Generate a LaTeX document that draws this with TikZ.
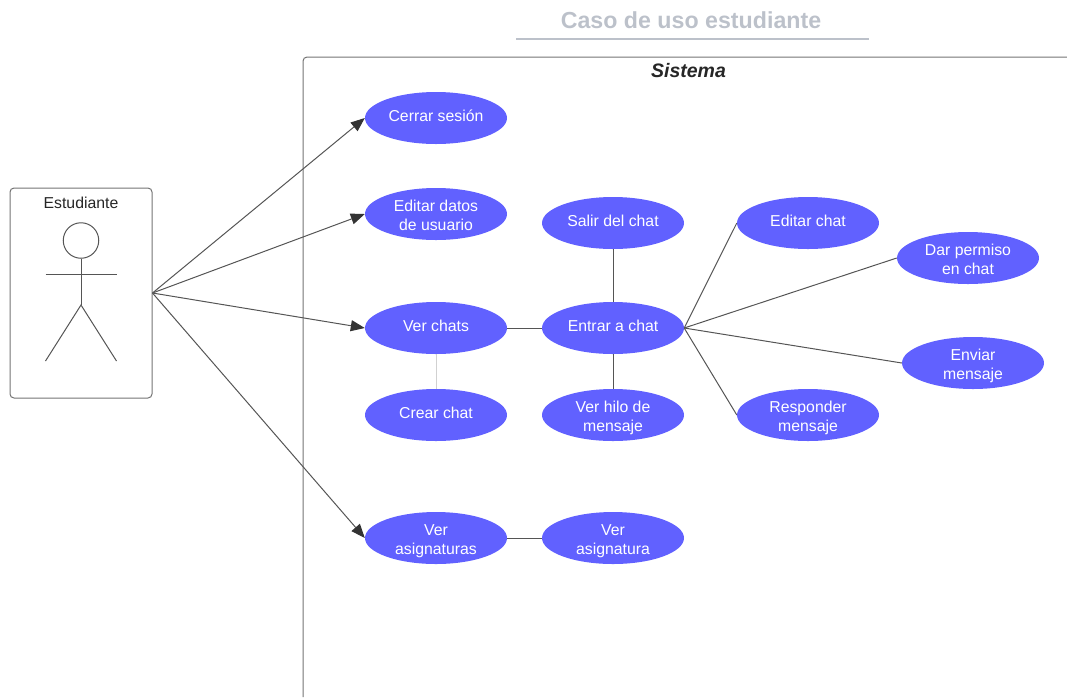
\documentclass[tikz,border=0pt]{standalone}
\usepackage{fontspec}
\setmainfont{Liberation Sans}
\usetikzlibrary{shapes.geometric,arrows.meta}
\definecolor{uc}{HTML}{6161FF}
\definecolor{ln}{HTML}{555555}
\definecolor{ttl}{HTML}{BCC1CA}
\tikzset{
  usecase/.style={ellipse,fill=uc,text=white,minimum width=142pt,minimum height=52pt,inner sep=0pt,align=center,font=\fontsize{15.8}{19}\selectfont},
  assoc/.style={draw=ln,line width=1pt},
  arrowed/.style={assoc,-{Triangle[length=14pt,width=11pt,color=black!80]}},
  faint/.style={draw=black!18,line width=0.8pt},
  figure/.style={draw=ln,line width=1pt},
  frame/.style={draw=black!55,line width=1pt,rounded corners=4pt}
}
\newcommand{\up}[1]{\raisebox{-3pt}[0pt][0pt]{\begin{tabular}{@{}c@{}}#1\end{tabular}}}
\newcommand{\dn}[1]{\raisebox{-6.5pt}[0pt][0pt]{\begin{tabular}{@{}c@{}}#1\end{tabular}}}
\begin{document}
\begin{tikzpicture}[x=1pt,y=-1pt]
\useasboundingbox (0,0) rectangle (1067,697);
% title
\node[font=\fontsize{23.2}{27}\selectfont\bfseries,text=ttl] (title) at (691,20.5) {Caso de uso estudiante};
\coordinate (ruleL) at (516,39); \coordinate (ruleR) at (869,39);
\draw[ttl,line width=2.5pt] (ruleL) -- (ruleR);
% system boundary
\coordinate (sysB) at (303,697); \coordinate (sysC) at (303,57); \coordinate (sysR) at (1067,57);
\draw[frame] (sysB) -- (sysC) -- (sysR);
\node[font=\fontsize{19.5}{23}\selectfont\bfseries\itshape,text=black!85] (sistema) at (688.5,71) {Sistema};
% actor
\node[frame,minimum width=142pt,minimum height=210pt,inner sep=0pt] (actor) at (81,293) {};
\node[font=\fontsize{15.8}{18}\selectfont,text=black!85] (actorlabel) at (81,203) {Estudiante};
\node[figure,circle,minimum size=35.5pt,inner sep=0pt] (head) at (81,240.5) {};
\coordinate (hip) at (81,305); \coordinate (armL) at (45.5,274.5); \coordinate (armR) at (116.5,274.5);
\coordinate (legL) at (45.5,361); \coordinate (legR) at (116.5,361);
\draw[figure] (head.south) -- (hip);
\draw[figure] (armL) -- (armR);
\draw[figure] (legL) -- (hip) -- (legR);
% use cases
\node[usecase] (cerrar) at (436,118) {\up{Cerrar sesión}};
\node[usecase] (editar) at (436,214) {\dn{Editar datos\\de usuario}};
\node[usecase] (verchats) at (436,328) {\up{Ver chats}};
\node[usecase] (crear) at (436,415) {\up{Crear chat}};
\node[usecase] (verasig) at (436,538) {\dn{Ver\\asignaturas}};
\node[usecase] (asig) at (613,538) {\dn{Ver\\asignatura}};
\node[usecase] (entrar) at (613,328) {\up{Entrar a chat}};
\node[usecase] (salir) at (613,223) {\up{Salir del chat}};
\node[usecase] (hilo) at (613,415) {\dn{Ver hilo de\\mensaje}};
\node[usecase] (edchat) at (808,223) {\up{Editar chat}};
\node[usecase] (permiso) at (968,258) {\dn{Dar permiso\\en chat}};
\node[usecase] (enviar) at (973,363) {\dn{Enviar\\mensaje}};
\node[usecase] (resp) at (808,415) {\dn{Responder\\mensaje}};
% connectors
\draw[arrowed] (actor.east) -- (cerrar.west);
\draw[arrowed] (actor.east) -- (editar.west);
\draw[arrowed] (actor.east) -- (verchats.west);
\draw[arrowed] (actor.east) -- (verasig.west);
\draw[assoc] (verchats) -- (entrar);
\draw[faint] (verchats) -- (crear);
\draw[assoc] (entrar) -- (salir);
\draw[assoc] (entrar) -- (hilo);
\draw[assoc] (verasig) -- (asig);
\draw[assoc] (entrar.east) -- (edchat.west);
\draw[assoc] (entrar.east) -- (permiso.west);
\draw[assoc] (entrar.east) -- (enviar.west);
\draw[assoc] (entrar.east) -- (resp.west);
\end{tikzpicture}
\end{document}
